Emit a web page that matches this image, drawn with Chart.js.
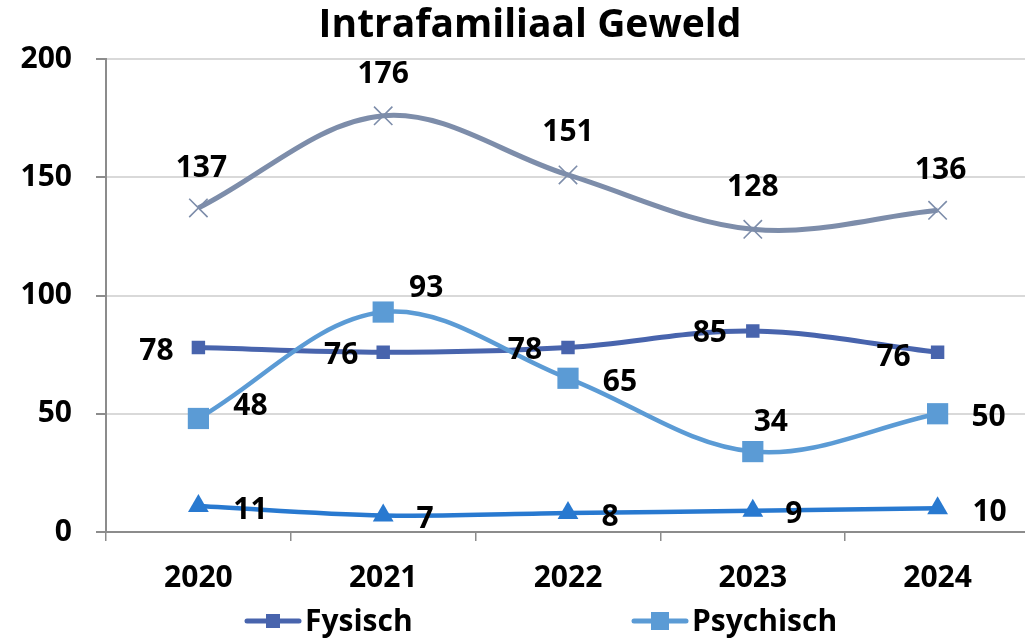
<!DOCTYPE html>
<html>
<head>
<meta charset="utf-8">
<script src="https://cdn.jsdelivr.net/npm/chart.js@4/dist/chart.umd.min.js"></script>
<style>
html,body{margin:0;padding:0;background:#fff;overflow:hidden;width:1025px;height:638px;}
#wrap{position:absolute;left:0;top:0;width:1030px;height:638px;}
canvas{display:block;}
</style>
</head>
<body>
<div id="wrap"><canvas id="c" width="1030" height="638" style="width:1030px;height:638px"></canvas></div>
<script>
// ---- data ----
const title = 'Intrafamiliaal Geweld';
const categories = ['2020', '2021', '2022', '2023', '2024'];
const seriesNames = ['Fysisch', 'Psychisch', 'Seksueel', 'Totaal'];
const fysisch = [78, 76, 78, 85, 76];
const psychisch = [48, 93, 65, 34, 50];
const seksueel = [11, 7, 8, 9, 10];
const totaal = [137, 176, 151, 128, 136];
const yMin = 0, yMax = 200, yStep = 50;

// ---- styling (label offsets relative to each point, pixels) ----
const colors = ['#4864ad', '#5b9bd5', '#2879d0', '#7d8daa'];
const labelOffsets = [
  [[-42, 1], [-42, 1], [-43, 0], [-43, 0], [-44, 3]],
  [[52, -14], [43, -26], [52, 2], [18, -32], [51, 1]],
  [[52, 2], [42, 2], [42, 2], [41, 1], [52, 2]],
  [[3, -42], [0, -44], [0, -45], [0, -44], [3, -42]]
];
const FONT = '"Open Sans", Lato, sans-serif';

const labelPlugin = {
  id: 'pointLabels',
  afterDatasetsDraw(chart) {
    const ctx = chart.ctx;
    ctx.save();
    ctx.font = 'bold 30px ' + FONT;
    ctx.fillStyle = '#000';
    ctx.textAlign = 'center';
    ctx.textBaseline = 'alphabetic';
    chart.data.datasets.forEach((ds, i) => {
      const meta = chart.getDatasetMeta(i);
      meta.data.forEach((pt, j) => {
        const o = labelOffsets[i][j];
        ctx.fillText(String(ds.data[j]), pt.x + o[0], pt.y + o[1] + 11);
      });
    });
    ctx.restore();
  }
};

function drawMarker(ctx, style, x, y, color) {
  ctx.save();
  ctx.fillStyle = color;
  ctx.strokeStyle = color;
  if (style === 'rectSmall') {
    ctx.fillRect(x - 7, y - 7, 14, 14);
  } else if (style === 'rectBig') {
    ctx.fillRect(x - 9, y - 9, 18, 18);
  } else if (style === 'triangle') {
    ctx.beginPath();
    ctx.moveTo(x, y - 10); ctx.lineTo(x + 10, y + 8); ctx.lineTo(x - 10, y + 8);
    ctx.closePath(); ctx.fill();
  } else {
    ctx.lineWidth = 1.5;
    ctx.beginPath();
    ctx.moveTo(x - 8, y - 8); ctx.lineTo(x + 8, y + 8);
    ctx.moveTo(x + 8, y - 8); ctx.lineTo(x - 8, y + 8);
    ctx.stroke();
  }
  ctx.restore();
}

const legendStyles = ['rectSmall', 'rectBig', 'triangle', 'cross'];
const titleLegendPlugin = {
  id: 'titleLegend',
  afterDraw(chart) {
    const ctx = chart.ctx;
    ctx.save();
    ctx.fillStyle = '#000';
    ctx.font = 'bold 39px ' + FONT;
    ctx.textAlign = 'center';
    ctx.textBaseline = 'alphabetic';
    ctx.fillText(title, 530, 37);
    // legend: two columns, two rows
    const colX = [245, 632];
    const rowY = [621, 663];
    ctx.font = 'bold 30px ' + FONT;
    ctx.textAlign = 'left';
    seriesNames.forEach((name, i) => {
      const x0 = colX[i % 2], y0 = rowY[Math.floor(i / 2)];
      ctx.strokeStyle = colors[i];
      ctx.lineWidth = 5;
      ctx.lineCap = 'round';
      ctx.beginPath(); ctx.moveTo(x0 + 2, y0); ctx.lineTo(x0 + 54, y0); ctx.stroke();
      drawMarker(ctx, legendStyles[i], x0 + 28, y0, colors[i]);
      ctx.fillStyle = '#000';
      ctx.fillText(name, x0 + 60, y0 + 10);
    });
    ctx.restore();
  }
};

function build() {
  const mk = (label, data, i, extra) => Object.assign({
    label, data,
    borderColor: colors[i],
    backgroundColor: colors[i],
    pointBackgroundColor: colors[i],
    pointBorderColor: colors[i],
    borderWidth: 4.5,
    tension: 0.35,
    fill: false,
    order: 4 - i
  }, extra);
  new Chart(document.getElementById('c'), {
    type: 'line',
    data: {
      labels: categories,
      datasets: [
        mk(seriesNames[0], fysisch, 0, { pointStyle: 'rect', pointRadius: 9.5, pointBorderWidth: 0, borderWidth: 5 }),
        mk(seriesNames[1], psychisch, 1, { pointStyle: 'rect', pointRadius: 15, pointBorderWidth: 0 }),
        mk(seriesNames[2], seksueel, 2, { pointStyle: 'triangle', pointRadius: 12, pointBorderWidth: 0 }),
        mk(seriesNames[3], totaal, 3, { pointStyle: 'crossRot', pointRadius: 13, pointBorderWidth: 1.6, borderWidth: 5 })
      ]
    },
    options: {
      responsive: false,
      devicePixelRatio: 1,
      animation: false,
      layout: { autoPadding: false, padding: { top: 59, left: 0, right: 0, bottom: 0 } },
      plugins: { legend: { display: false }, title: { display: false }, tooltip: { enabled: false } },
      scales: {
        x: {
          offset: true,
          grid: { offset: true, drawOnChartArea: false, drawTicks: true, tickLength: 9, tickColor: '#8c8c8c', lineWidth: 1.5 },
          border: { display: true, color: '#8c8c8c', width: 2 },
          ticks: { color: '#000', font: { family: FONT, size: 30, weight: 'bold' }, padding: 19, maxRotation: 0, autoSkip: false },
          afterFit(s) { s.height = 106; s.paddingLeft = 0; s.paddingRight = 0; }
        },
        y: {
          min: yMin, max: yMax,
          grid: { color: '#d9d9d9', lineWidth: 2, tickColor: '#8c8c8c', tickLength: 10, drawTicks: true },
          border: { display: true, color: '#8c8c8c', width: 2 },
          ticks: { stepSize: yStep, color: '#000', font: { family: FONT, size: 30, weight: 'bold' }, padding: 24 },
          afterFit(s) { s.width = 106; }
        }
      }
    },
    plugins: [labelPlugin, titleLegendPlugin]
  });
}

if (document.fonts && document.fonts.load) {
  Promise.all([document.fonts.load('bold 30px "Open Sans"'), document.fonts.load('bold 39px "Open Sans"')]).then(build, build);
} else { build(); }
</script>
</body>
</html>
